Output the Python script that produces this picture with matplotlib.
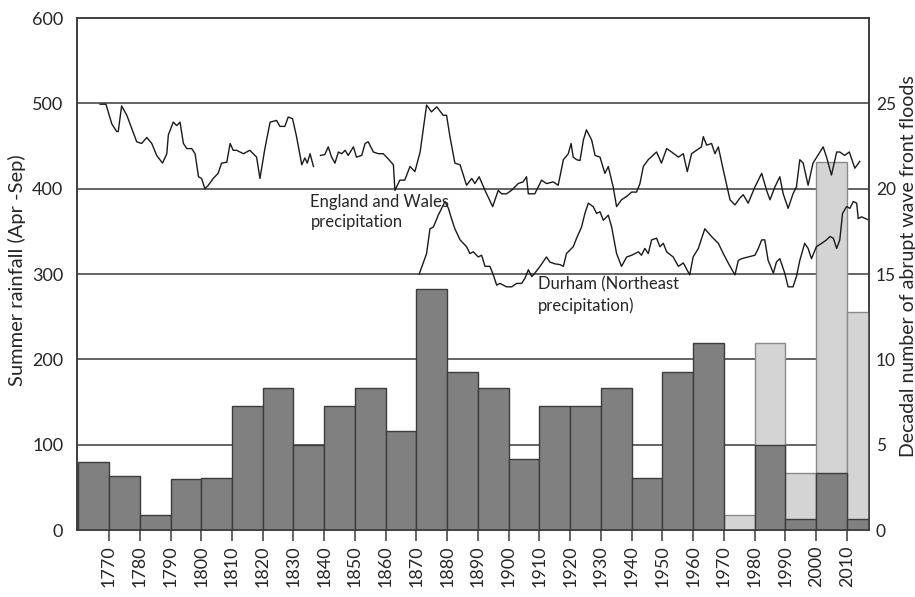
import numpy as np
import matplotlib.pyplot as plt

# decadal flood counts (right axis), one bar per decade starting year
decades = list(range(1760, 2020, 10))
floods_dark = [4.0, 3.15, 0.87, 2.97, 3.03, 7.28, 8.33, 5.0, 7.28, 8.3,
               5.79, 14.14, 9.26, 8.33, 4.17, 7.28, 7.28, 8.33, 3.05, 9.26,
               10.93, 0.0, 5.0, 0.66, 3.34, 0.66]
# recent decades with the extended record (light bars)
light_decades = [1970, 1980, 1990, 2000, 2010]
floods_light = [0.87, 10.93, 3.34, 21.56, 12.76]

# England and Wales summer precipitation (smoothed), None = gap in record
ew_years = [1767.1, 1769.0, 1770.9, 1772.5, 1773.0, 1774.1, 1775.8, 1779.0, 1780.6, 1782.3,
            1783.9, 1785.5, 1787.4, 1788.8, 1789.3, 1790.9, 1792.0, 1793.1, 1794.2, 1795.3,
            1796.9, 1798.0, 1799.1, 1800.1, 1801.2, 1802.3, 1803.9, 1805.5, 1806.6, 1808.3,
            1809.4, 1810.4, 1811.5, 1813.7, 1815.8, 1816.9, 1818.0, 1819.1, 1820.7, 1822.4,
            1824.5, 1825.6, 1827.2, 1828.3, 1829.7, 1831.0, 1832.7, 1833.7, 1834.5, 1835.4,
            1836.5, 1837.6, 1838.8, 1840.2, 1841.3, 1842.4, 1843.5, 1844.6, 1845.7, 1846.8,
            1847.8, 1849.5, 1850.5, 1852.2, 1853.3, 1854.3, 1856.0, 1857.6, 1859.2, 1860.8,
            1862.5, 1863.0, 1864.6, 1866.2, 1867.9, 1869.5, 1871.2, 1873.3, 1874.9, 1876.6,
            1878.7, 1879.8, 1880.9, 1882.5, 1884.2, 1886.3, 1888.0, 1889.0, 1890.4, 1892.3,
            1894.8, 1896.6, 1897.7, 1899.3, 1900.9, 1903.1, 1904.7, 1905.8, 1906.4, 1908.5,
            1910.7, 1912.3, 1914.5, 1916.1, 1917.8, 1919.4, 1920.3, 1921.0, 1922.1, 1923.2,
            1924.3, 1925.3, 1927.0, 1928.1, 1929.7, 1931.3, 1932.4, 1934.0, 1935.1, 1936.7,
            1938.4, 1940.0, 1941.6, 1942.7, 1943.8, 1945.4, 1948.1, 1949.7, 1951.4, 1953.0,
            1955.2, 1956.8, 1958.1, 1959.5, 1961.1, 1962.7, 1963.3, 1964.4, 1966.0, 1967.1,
            1968.2, 1969.8, 1972.0, 1973.6, 1975.2, 1976.3, 1977.9, 1980.1, 1982.3, 1983.9,
            1985.0, 1986.6, 1988.2, 1989.3, 1990.9, 1992.5, 1993.6, 1994.7, 1995.8, 1997.4,
            1999.0, 2002.3, 2003.4, 2005.0, 2006.7, 2007.7, 2009.3, 2010.8, 2012.6, 2014.2]
ew_rain = [499, 499, 476, 467, 467, 497, 486, 455, 453, 460,
           453, 439, 430, 441, 463, 478, 474, 478, 453, 447,
           447, 441, 414, 412, 400, 404, 412, 418, 430, 431,
           453, 445, 445, 441, 445, 441, 437, 412, 447, 478,
           480, 473, 473, 484, 482, 461, 428, 436, 430, 441,
           426, None, 439, 440, 449, 437, 430, 443, 441, 445,
           439, 449, 437, 439, 453, 455, 443, 441, 441, 435,
           428, 398, 410, 410, 426, 420, 443, 498, 490, 496,
           486, 486, 461, 430, 428, 404, 412, 406, 414, 398,
           379, 398, 394, 394, 398, 406, 408, 414, 394, 394,
           410, 406, 408, 404, 434, 441, 453, 437, 434, 433,
           457, 469, 457, 439, 437, 418, 426, 402, 379, 387,
           391, 396, 396, 406, 426, 434, 443, 430, 447, 443,
           437, 441, 420, 441, 445, 449, 461, 451, 453, 441,
           449, 422, 387, 381, 389, 393, 383, 402, 418, 398,
           387, 402, 414, 394, 377, 394, 402, 434, 430, 404,
           430, 449, 437, 416, 443, 443, 439, 443, 424, 432]

# Durham (Northeast) summer precipitation (smoothed)
dur_years = [1870.9, 1873.3, 1874.4, 1875.5, 1877.1, 1879.3, 1880.4, 1881.4, 1882.5, 1884.2,
             1886.3, 1887.4, 1888.5, 1890.1, 1891.2, 1892.3, 1893.9, 1895.0, 1896.1, 1897.2,
             1899.3, 1901.0, 1902.6, 1904.2, 1905.3, 1906.4, 1907.5, 1908.5, 1910.2, 1912.3,
             1913.4, 1915.0, 1916.7, 1917.8, 1918.8, 1921.0, 1922.1, 1923.7, 1924.8, 1925.9,
             1927.5, 1928.6, 1929.7, 1930.8, 1932.4, 1933.5, 1935.1, 1936.7, 1938.4, 1940.0,
             1942.2, 1943.2, 1944.3, 1945.4, 1946.5, 1948.1, 1949.2, 1950.3, 1951.4, 1953.5,
             1955.2, 1956.8, 1958.9, 1960.0, 1961.7, 1963.8, 1965.5, 1966.5, 1968.2, 1969.8,
             1972.0, 1973.6, 1974.7, 1975.8, 1977.9, 1980.1, 1981.2, 1982.3, 1983.3, 1984.4,
             1986.1, 1987.1, 1988.2, 1989.8, 1990.9, 1992.5, 1993.6, 1994.7, 1996.3, 1997.4,
             1998.5, 2000.1, 2001.8, 2003.4, 2004.5, 2005.6, 2006.7, 2007.7, 2008.6, 2009.9,
             2011.0, 2012.1, 2013.2, 2013.7, 2014.8, 2016.7]
dur_rain = [300, 324, 353, 355, 369, 385, 377, 365, 353, 340,
            332, 324, 326, 320, 322, 309, 309, 299, 287, 289,
            285, 285, 289, 289, 295, 305, 297, 301, 309, 320,
            314, 312, 311, 309, 324, 332, 342, 355, 371, 383,
            379, 371, 373, 363, 369, 355, 324, 309, 320, 322,
            326, 322, 330, 324, 340, 342, 332, 336, 326, 320,
            309, 313, 299, 320, 330, 353, 346, 342, 336, 324,
            309, 299, 316, 318, 320, 322, 330, 340, 340, 316,
            301, 314, 318, 301, 285, 285, 297, 316, 336, 330,
            318, 332, 336, 340, 344, 342, 330, 340, 371, 379,
            377, 385, 383, 365, 367, 364]

ytick_left = [0, 100, 200, 300, 400, 500, 600]
ytick_right = [0, 5, 10, 15, 20, 25]
xtick_years = list(range(1770, 2020, 10))

FONT = ['Lato', 'DejaVu Sans']
plt.rcParams['font.family'] = FONT
TXT = '#262626'

XMIN, XMAX = 1759.6, 2017.2

fig = plt.figure(figsize=(9.15, 5.97), dpi=100)
ax = fig.add_axes([0.0842, 0.1122, 0.8655, 0.8576])
ax2 = ax.twinx()

# bars live on the right-hand (count) axis
ax2.set_ylim(0, 30)
ax.set_ylim(0, 600)
ax.set_xlim(XMIN, XMAX)

# grid lines behind everything
for v in ytick_left[1:-1]:
    ax2.axhline(v / 20.0, color='#3a3a3a', lw=1.1, zorder=0)

widths = [min(10, XMAX - d) for d in decades]
lwidths = [min(10, XMAX - d) for d in light_decades]
ax2.bar(light_decades, floods_light, width=lwidths, align='edge',
        color='#d4d4d4', edgecolor='#8a8a8a', linewidth=1.0, zorder=1)
ax2.bar(decades, floods_dark, width=widths, align='edge',
        color='#808080', edgecolor='#3c3c3c', linewidth=1.0, zorder=2)

# precipitation curves on top of the bars
ew = np.array([np.nan if v is None else v for v in ew_rain], dtype=float)
ax2.plot(ew_years, ew / 20.0, color='#1a1a1a', lw=1.0, zorder=3)
ax2.plot(dur_years, np.array(dur_rain) / 20.0, color='#1a1a1a', lw=1.0, zorder=3)

ax2.text(1835.5, 394 / 20.0, 'England and Wales\nprecipitation', fontsize=12,
         color=TXT, va='top', ha='left', linespacing=1.35, zorder=4)
ax2.text(1909.5, 275 / 20.0, 'Durham (Northeast\nprecipitation)', fontsize=12,
         color=TXT, va='center', ha='left', linespacing=1.35, zorder=4)

# left axis: rainfall
ax.set_yticks(ytick_left)
ax.set_yticklabels([str(v) for v in ytick_left], fontsize=13, color=TXT)
ax.tick_params(axis='y', length=0, pad=10)
ax.set_ylabel('Summer rainfall (Apr -Sep)', fontsize=14.5, color=TXT,
              ha='center', va='center')
ax.yaxis.set_label_coords(-0.0758, 0.508)

# right axis: flood counts
ax2.set_yticks(ytick_right)
ax2.set_yticklabels([str(v) for v in ytick_right], fontsize=12.5, color=TXT)
ax2.tick_params(axis='y', length=0, pad=5)
ax2.set_ylabel('Decadal number of abrupt wave front floods', fontsize=14,
               color=TXT, rotation=90, ha='center', va='center')
ax2.yaxis.set_label_coords(1.0495, 0.516)

ax.set_xticks(xtick_years)
ax.set_xticklabels([str(y) for y in xtick_years], rotation=90, fontsize=13, color=TXT)
ax.tick_params(axis='x', direction='out', length=8, width=1.1, color='#3a3a3a', pad=3)

for a in (ax, ax2):
    for s in a.spines.values():
        s.set_color('#3a3a3a')
        s.set_linewidth(1.1)

fig.savefig('out.png', dpi=100)
